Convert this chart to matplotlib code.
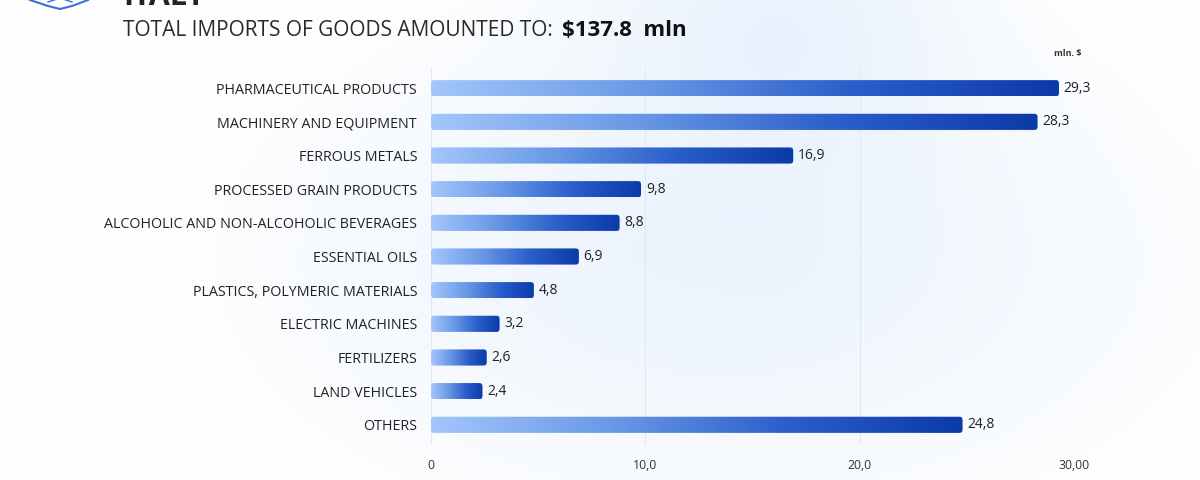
import numpy as np
import matplotlib
matplotlib.use("Agg")
import matplotlib.pyplot as plt
from matplotlib.patches import FancyBboxPatch
from matplotlib.colors import LinearSegmentedColormap

categories = ["PHARMACEUTICAL PRODUCTS", "MACHINERY AND EQUIPMENT", "FERROUS METALS",
              "PROCESSED GRAIN PRODUCTS", "ALCOHOLIC AND NON-ALCOHOLIC BEVERAGES",
              "ESSENTIAL OILS", "PLASTICS, POLYMERIC MATERIALS", "ELECTRIC MACHINES",
              "FERTILIZERS", "LAND VEHICLES", "OTHERS"]
values = [29.3, 28.3, 16.9, 9.8, 8.8, 6.9, 4.8, 3.2, 2.6, 2.4, 24.8]
value_labels = ["29,3", "28,3", "16,9", "9,8", "8,8", "6,9", "4,8", "3,2", "2,6", "2,4", "24,8"]
xticks = [0, 10, 20, 30]
xtick_labels = ["0", "10,0", "20,0", "30,00"]

FONT = ["Open Sans", "DejaVu Sans"]
plt.rcParams['font.family'] = FONT

W, H = 1200, 480
fig = plt.figure(figsize=(W / 100, H / 100), dpi=100)
fig.patch.set_facecolor("white")

# background glow
bg = fig.add_axes([0, 0, 1, 1], zorder=0)
yy, xx = np.mgrid[0:H, 0:W]
d = np.sqrt(((xx - 720) / 540.0) ** 2 + ((yy - 260) / 300.0) ** 2)
glow = np.clip(1.15 - d, 0, 1) ** 1.1
top = np.exp(-(((xx - 780) / 180.0) ** 2)) * np.exp(-((yy) / 150.0) ** 2)
mask = np.clip(glow * 0.65 + top * 0.6, 0, 1)
base = np.array([1.0, 1.0, 1.0])
tint = np.array([0.89, 0.935, 0.99])
img = base[None, None, :] * (1 - mask[..., None]) + tint[None, None, :] * mask[..., None]
bg.imshow(img, extent=[0, W, H, 0], aspect='auto')
bg.set_xlim(0, W)
bg.set_ylim(H, 0)
bg.axis("off")

# logo fragment
bg.plot([30, 48, 60, 72, 88], [0, 6, 9, 6, 0], color="#3d6fd6", lw=1.5)
bg.plot([48, 60, 72], [2, -2, 2], color="#3d6fd6", lw=1.0)

# headline (partially cut, as in the reference)
fig.text(123 / W, 1 + 3 / H, "ITALY", fontsize=22, fontweight="bold", color="#222222",
         va="center", ha="left")
fig.text(123 / W, 1 - 30 / H, "TOTAL IMPORTS OF GOODS AMOUNTED TO:", fontsize=15,
         color="#2a2a2a", va="center", ha="left")
fig.text(562 / W, 1 - 30 / H, "$137.8  mln", fontsize=16, fontweight="bold",
         color="#111111", va="center", ha="left")

ax = fig.add_axes([431 / W, 35 / H, (1074 - 431) / W, (445 - 68) / H], zorder=1)
ax.patch.set_alpha(0)
n = len(categories)
ax.set_xlim(0, 30)
ax.set_ylim(n - 0.4, -0.6)

cmap = LinearSegmentedColormap.from_list("g", ["#a3c6fb", "#6a9ae6", "#2c5fcb", "#0b3aa9"])
grad = np.linspace(0, 1, 256)[None, :]
bh = 0.48
for i, v in enumerate(values):
    patch = FancyBboxPatch((0, i - bh / 2), v, bh,
                           boxstyle="round,pad=0,rounding_size=0.15",
                           mutation_aspect=(1 / 33.7) / (1 / 21.43),
                           facecolor="none", edgecolor="none")
    ax.add_patch(patch)
    im = ax.imshow(grad, cmap=cmap, extent=[0, v, i + bh / 2, i - bh / 2],
                   aspect="auto", zorder=2, interpolation="bilinear")
    im.set_clip_path(patch)
    ax.text(v + 0.22, i, value_labels[i], fontsize=10, color="#222222",
            va="center", ha="left", zorder=3)

ax.set_yticks(range(n))
ax.set_yticklabels(categories, fontsize=10.3, color="#222222")
ax.tick_params(axis="y", length=0, pad=10)
ax.set_xticks(xticks)
ax.set_xticklabels(xtick_labels, fontsize=8.8, color="#333333")
ax.tick_params(axis="x", length=0, pad=10)
ax.set_ylim(10.6, -0.6)
ax.grid(axis="x", color="#e3e8f0", lw=0.8, zorder=0)
ax.set_axisbelow(True)
for s in ax.spines.values():
    s.set_visible(False)

fig.text(1068 / W, 1 - 53 / H, "mln. $", fontsize=6.5, fontweight="bold", color="#333333",
         ha="center", va="center")

fig.savefig("out.png", dpi=100)
